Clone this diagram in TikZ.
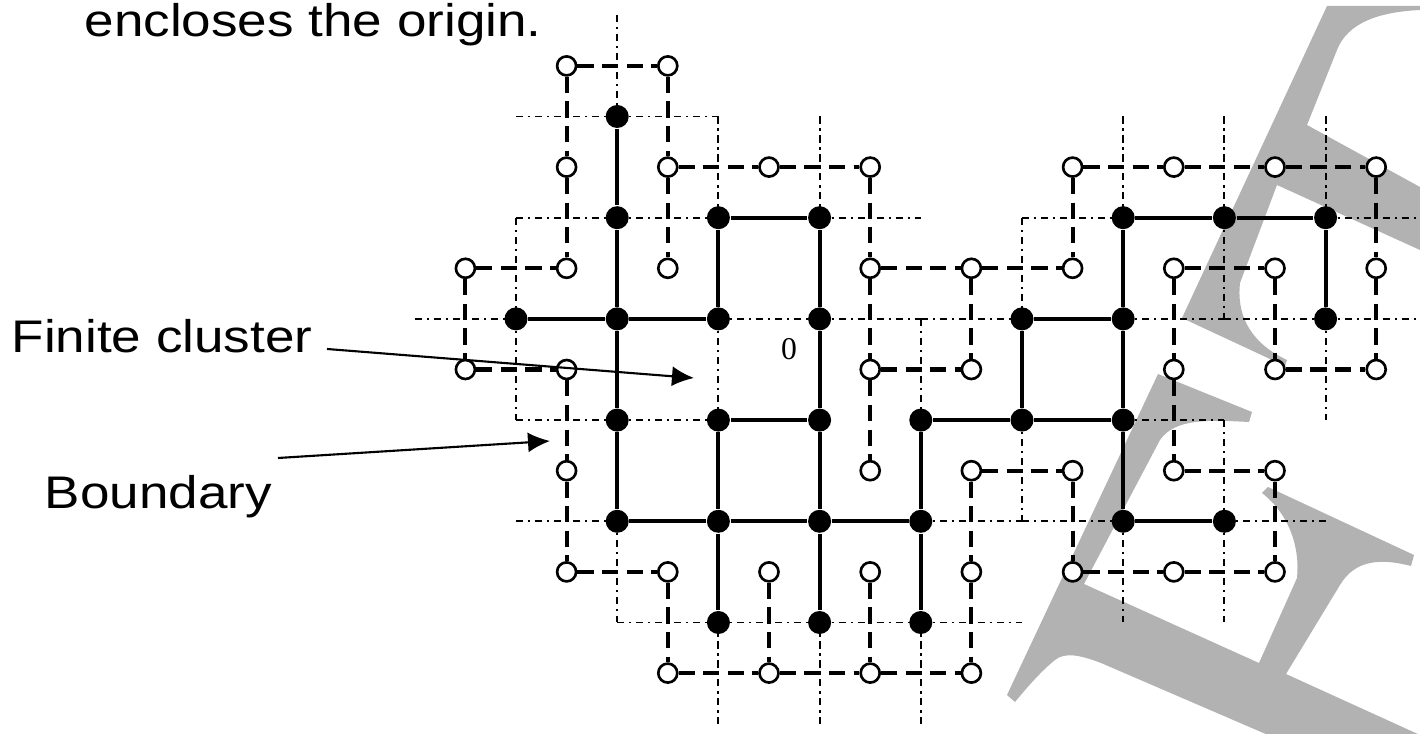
\documentclass[tikz,border=0pt]{standalone}
\usepackage{fontspec}
\setmainfont[FakeStretch=1.16]{Liberation Sans}
\newfontfamily\zerofont{Liberation Serif}
\usetikzlibrary{arrows.meta}
\begin{document}
\begin{tikzpicture}[x=0.01cm,y=-0.01cm,
  solidedge/.style={line width=1.15pt},
  dualedge/.style={line width=1.15pt, dash pattern=on 4.6pt off 2.4pt},
  latticeedge/.style={line width=0.55pt, dash pattern=on 2pt off 1.4pt on 0.6pt off 1.4pt},
  site/.style={circle, fill=black, inner sep=0pt, minimum size=0.23cm},
  dualsite/.style={circle, draw=black, fill=white, line width=0.75pt, inner sep=0pt, minimum size=0.19cm},
  lbl/.style={inner sep=0pt, font=\fontsize{13}{16}\selectfont},
  pointer/.style={-{Latex[length=0.22cm,width=0.2cm]}, line width=0.6pt},
  wm/.style={fill=black!30, draw=none}]

\useasboundingbox (0,0) rectangle (1420,734);

% watermark
\fill[wm] (1182,318) -- (1327,6) -- (1420,6) -- (1420,10)
  .. controls (1380,12) and (1348,22) .. (1337,50) -- (1307,125) -- (1420,187)
  -- (1420,250) -- (1277,185) -- (1240,283)
  .. controls (1236,320) and (1255,345) .. (1287,360) -- (1285,366) -- cycle;
\fill[wm] (1158,374) -- (1252,412) -- (1249,422)
  .. controls (1210,420) and (1175,418) .. (1160,440)
  -- (1084,584) -- (1259,663) -- (1297,578)
  .. controls (1300,548) and (1290,515) .. (1262,493) -- (1268,487) -- (1414,555)
  -- (1411,566) .. controls (1380,558) and (1355,560) .. (1340,585)
  -- (1286,674) -- (1420,735) -- (1268,735) -- (1101,663)
  .. controls (1080,655) and (1065,652) .. (1055,660)
  .. controls (1040,672) and (1025,690) .. (1015,702) -- (1007,695) -- cycle;

% primary lattice points
\foreach \i in {-1,...,9}
  \foreach \j in {-1,...,6}
    \coordinate (p\i-\j) at ({516+101.2*\i},{116.5+101.2*\j});

% closed primary edges (dotted)
\foreach \a/\b in {1--1/1-0, 0-0/1-0, 1-0/2-0, 2-0/2-1, 0-1/1-1, 1-1/2-1, 0-1/0-2,
  3-0/3-1, 3-1/4-1, -1-2/0-2, 2-2/3-2, 3-2/4-2, 4-2/5-2, 4-2/4-3, 2-2/2-3,
  0-2/0-3, 0-3/1-3, 1-3/2-3, 0-4/1-4, 1-4/1-5, 1-5/2-5, 2-5/3-5, 3-5/4-5, 4-5/5-5,
  2-5/2-6, 3-5/3-6, 4-5/4-6, 6-0/6-1, 7-0/7-1, 7-1/7-2, 8-0/8-1, 5-1/6-1, 5-1/5-2,
  8-1/9-1, 6-2/7-2, 7-2/8-2, 8-2/9-2, 8-2/8-3, 6-3/7-3, 7-3/7-4, 7-4/8-4,
  4-4/5-4, 5-4/6-4, 5-3/5-4, 6-4/6-5, 7-4/7-5}
  \draw[latticeedge] (p\a) -- (p\b);

% cluster sites
\foreach \s in {1-0, 1-1, 2-1, 3-1, 0-2, 1-2, 2-2, 3-2, 1-3, 2-3, 3-3, 1-4, 2-4, 3-4, 4-4,
  2-5, 3-5, 4-5, 6-1, 7-1, 8-1, 5-2, 6-2, 8-2, 4-3, 5-3, 6-3, 6-4, 7-4}
  \node[site] (b\s) at (p\s) {};

% open edges (solid)
\foreach \a/\b in {1-0/1-1, 1-1/1-2, 1-2/1-3, 1-3/1-4, 0-2/1-2, 1-2/2-2, 2-1/3-1, 2-1/2-2,
  3-1/3-2, 3-2/3-3, 2-3/3-3, 2-3/2-4, 3-3/3-4, 1-4/2-4, 2-4/3-4, 3-4/4-4, 2-4/2-5,
  3-4/3-5, 4-4/4-5, 4-4/4-3, 4-3/5-3, 5-3/6-3, 5-2/5-3, 5-2/6-2, 6-2/6-3, 6-1/6-2,
  6-1/7-1, 7-1/8-1, 8-1/8-2, 6-3/6-4, 6-4/7-4}
  \draw[solidedge] (b\a) -- (b\b);

% dual sites
\foreach \k/\l in {1/0, 2/0, 1/1, 2/1, 3/1, 4/1, 6/1, 7/1, 8/1, 9/1,
  0/2, 1/2, 2/2, 4/2, 5/2, 6/2, 7/2, 8/2, 9/2,
  0/3, 1/3, 4/3, 5/3, 7/3, 8/3, 9/3,
  1/4, 4/4, 5/4, 6/4, 7/4, 8/4,
  1/5, 2/5, 3/5, 4/5, 5/5, 6/5, 7/5, 8/5,
  2/6, 3/6, 4/6, 5/6}
  \node[dualsite] (d\k-\l) at ({465.4+101.2*\k},{65.9+101.2*\l}) {};

% dual boundary edges (dashed)
\foreach \a/\b in {1-0/2-0, 1-0/1-1, 2-0/2-1, 1-1/1-2, 2-1/2-2, 2-1/3-1, 3-1/4-1, 4-1/4-2,
  0-2/1-2, 0-2/0-3, 0-3/1-3, 1-3/1-4, 1-4/1-5, 1-5/2-5, 2-5/2-6, 2-6/3-6, 3-6/4-6,
  4-6/5-6, 3-5/3-6, 4-5/4-6, 5-5/5-6, 4-2/4-3, 4-3/5-3, 4-3/4-4, 4-2/5-2, 5-2/5-3,
  5-2/6-2, 6-1/6-2, 6-1/7-1, 7-1/8-1, 8-1/9-1, 9-1/9-2, 9-2/9-3, 8-3/9-3, 8-2/8-3,
  7-2/8-2, 7-2/7-3, 7-3/7-4, 7-4/8-4, 8-4/8-5, 6-5/7-5, 7-5/8-5, 6-4/6-5, 5-4/6-4,
  5-4/5-5}
  \draw[dualedge] (d\a) -- (d\b);

% labels
\node[lbl, anchor=base west] (enc) at (84,37) {encloses the origin.};
\node[lbl, anchor=base west] (fc) at (11,353) {Finite cluster};
\node[lbl, anchor=base west] (bd) at (44,509) {Boundary};
\node[inner sep=0pt] (zero) at (789,349) {\zerofont\fontsize{9}{10}\selectfont 0};

\coordinate (fcs) at (327,349);
\coordinate (fct) at (694,378);
\coordinate (bds) at (278,458);
\coordinate (bdt) at (550,441);
\draw[pointer] (fcs) -- (fct);
\draw[pointer] (bds) -- (bdt);
\end{tikzpicture}
\end{document}
